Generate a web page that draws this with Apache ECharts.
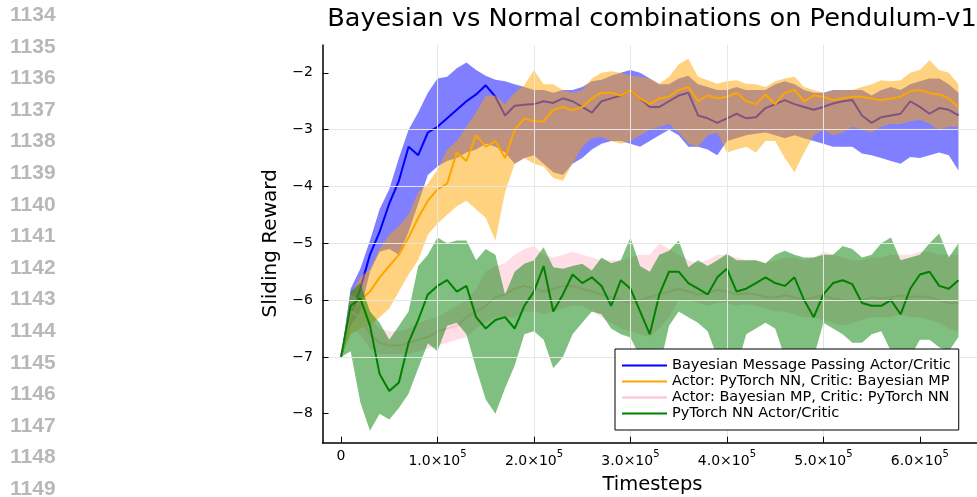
<!DOCTYPE html>
<html>
<head>
<meta charset="utf-8">
<script src="https://cdn.jsdelivr.net/npm/echarts@6/dist/echarts.min.js"></script>
<style>
html,body{margin:0;padding:0;background:#ffffff;}
#chart{width:977px;height:497px;}
</style>
</head>
<body>
<div id="chart"></div>
<script>
// ---------------- data ----------------
const timesteps = [0,10000,20000,30000,40000,50000,60000,70000,80000,90000,
  100000,110000,120000,130000,140000,150000,160000,170000,180000,190000,
  200000,210000,220000,230000,240000,250000,260000,270000,280000,290000,
  300000,310000,320000,330000,340000,350000,360000,370000,380000,390000,
  400000,410000,420000,430000,440000,450000,460000,470000,480000,490000,
  500000,510000,520000,530000,540000,550000,560000,570000,580000,590000,
  600000,610000,620000,630000,640000];

const seriesNames = [
  'Bayesian Message Passing Actor/Critic',
  'Actor: PyTorch NN, Critic: Bayesian MP',
  'Actor: Bayesian MP, Critic: PyTorch NN',
  'PyTorch NN Actor/Critic'
];

// Bayesian Message Passing Actor/Critic
const bmpMean = [-7.0,-6.3,-5.8,-5.2,-4.8,-4.3,-3.9,-3.3,-3.45,-3.05,
  -2.95,-2.8,-2.65,-2.5,-2.38,-2.22,-2.42,-2.75,-2.58,-2.56,
  -2.55,-2.5,-2.53,-2.45,-2.5,-2.6,-2.7,-2.5,-2.45,-2.4,
  -2.3,-2.45,-2.6,-2.6,-2.5,-2.4,-2.35,-2.75,-2.8,-2.88,
  -2.8,-2.72,-2.8,-2.78,-2.62,-2.55,-2.48,-2.55,-2.6,-2.65,
  -2.6,-2.54,-2.5,-2.48,-2.75,-2.88,-2.78,-2.75,-2.72,-2.5,
  -2.6,-2.72,-2.62,-2.65,-2.75];
const bmpUpper = [-7.0,-5.8,-5.45,-4.95,-4.4,-4.05,-3.5,-3.0,-2.7,-2.35,
  -2.1,-2.07,-1.92,-1.82,-1.95,-2.05,-2.12,-2.15,-2.2,-2.25,
  -2.3,-2.3,-2.35,-2.3,-2.3,-2.25,-2.15,-2.12,-2.05,-2.0,
  -1.95,-2.0,-2.1,-2.2,-2.2,-2.1,-2.05,-2.2,-2.25,-2.3,
  -2.3,-2.25,-2.3,-2.3,-2.3,-2.2,-2.15,-2.2,-2.3,-2.35,
  -2.35,-2.3,-2.3,-2.3,-2.3,-2.4,-2.3,-2.25,-2.3,-2.2,
  -2.15,-2.1,-2.1,-2.2,-2.35];
const bmpLower = [-7.0,-6.45,-6.2,-5.5,-5.15,-5.1,-5.2,-4.8,-4.3,-3.8,
  -3.65,-3.55,-3.5,-3.4,-3.35,-3.25,-3.3,-3.4,-3.6,-3.5,
  -3.45,-3.6,-3.75,-3.8,-3.6,-3.5,-3.35,-3.25,-3.2,-3.2,
  -3.25,-3.3,-3.2,-3.1,-3.0,-3.1,-3.3,-3.3,-3.35,-3.45,
  -3.2,-3.15,-3.1,-3.07,-3.05,-3.1,-3.15,-3.1,-3.15,-3.2,
  -3.25,-3.3,-3.3,-3.3,-3.42,-3.45,-3.5,-3.55,-3.6,-3.48,
  -3.5,-3.45,-3.4,-3.45,-3.72];

// Actor: PyTorch NN, Critic: Bayesian MP
const nnBmpMean = [-7.0,-6.3,-6.0,-5.85,-5.6,-5.4,-5.2,-4.9,-4.55,-4.25,
  -4.05,-3.95,-3.4,-3.55,-3.1,-3.3,-3.2,-3.5,-3.0,-2.8,
  -2.85,-2.85,-2.65,-2.6,-2.66,-2.6,-2.45,-2.35,-2.35,-2.4,
  -2.3,-2.45,-2.55,-2.45,-2.42,-2.3,-2.25,-2.5,-2.4,-2.45,
  -2.42,-2.35,-2.5,-2.55,-2.38,-2.55,-2.35,-2.3,-2.5,-2.4,
  -2.42,-2.48,-2.45,-2.42,-2.42,-2.45,-2.48,-2.45,-2.42,-2.32,
  -2.3,-2.36,-2.38,-2.45,-2.6];
const nnBmpUpper = [-7.0,-5.9,-5.6,-5.45,-5.1,-4.85,-4.7,-4.5,-4.1,-3.95,
  -3.7,-3.35,-3.2,-2.95,-2.7,-2.4,-2.4,-2.55,-2.35,-2.22,
  -1.95,-2.2,-2.2,-2.3,-2.35,-2.3,-2.1,-2.0,-1.97,-2.0,
  -2.05,-2.07,-2.1,-2.19,-2.07,-1.85,-1.75,-2.07,-2.13,-2.19,
  -2.15,-2.13,-2.19,-2.2,-2.25,-2.15,-2.1,-2.07,-2.25,-2.3,
  -2.35,-2.31,-2.3,-2.3,-2.25,-2.2,-2.13,-2.15,-2.13,-2.0,
  -1.95,-1.78,-1.95,-2.0,-2.2];
const nnBmpLower = [-7.0,-6.6,-6.5,-6.45,-6.3,-6.15,-5.85,-5.55,-5.3,-4.85,
  -4.65,-4.5,-4.35,-4.25,-4.4,-4.55,-4.95,-4.1,-3.6,-3.5,
  -3.6,-3.65,-3.85,-3.9,-3.6,-3.3,-3.15,-3.13,-3.2,-3.25,
  -3.2,-3.1,-3.0,-2.95,-2.9,-3.05,-3.25,-3.3,-3.1,-3.05,
  -3.4,-3.35,-3.3,-3.4,-3.2,-3.2,-3.5,-3.75,-3.4,-3.1,
  -3.0,-3.1,-3.05,-2.95,-3.0,-3.05,-2.95,-2.9,-2.9,-2.85,
  -2.83,-2.9,-3.0,-2.95,-2.95];

// Actor: Bayesian MP, Critic: PyTorch NN
const bmpNnMean = [-7.0,-6.2,-6.3,-6.6,-6.75,-6.8,-6.8,-6.75,-6.7,-6.65,
  -6.55,-6.5,-6.45,-6.3,-6.2,-6.1,-5.95,-5.9,-5.8,-5.75,
  -5.8,-5.85,-5.8,-5.75,-5.75,-5.8,-5.85,-5.9,-5.95,-6.0,
  -6.05,-6.0,-5.95,-5.9,-5.85,-5.8,-5.85,-5.9,-5.88,-5.82,
  -5.85,-5.9,-5.88,-5.9,-5.95,-5.95,-5.92,-5.95,-6.0,-5.95,
  -5.92,-5.97,-6.0,-6.02,-6.0,-5.95,-5.97,-5.95,-5.92,-5.95,
  -5.93,-5.95,-6.0,-6.05,-6.05];
const bmpNnUpper = [-7.0,-5.9,-6.0,-6.35,-6.5,-6.55,-6.55,-6.5,-6.4,-6.35,
  -6.3,-6.2,-6.1,-6.0,-5.8,-5.5,-5.4,-5.35,-5.2,-5.1,
  -5.05,-5.2,-5.25,-5.2,-5.15,-5.2,-5.25,-5.3,-5.3,-5.3,
  -5.25,-5.2,-5.2,-5.0,-5.1,-5.2,-5.3,-5.35,-5.3,-5.2,
  -5.2,-5.25,-5.3,-5.3,-5.35,-5.3,-5.25,-5.25,-5.3,-5.25,
  -5.15,-5.2,-5.25,-5.3,-5.3,-5.25,-5.25,-5.2,-5.2,-5.2,
  -5.15,-5.15,-5.2,-5.2,-5.2];
const bmpNnLower = [-7.0,-6.5,-6.6,-6.85,-6.95,-6.95,-6.95,-6.95,-6.9,-6.85,
  -6.8,-6.75,-6.7,-6.65,-6.5,-6.4,-6.3,-6.3,-6.3,-6.2,
  -6.2,-6.25,-6.2,-6.15,-6.1,-6.1,-6.2,-6.3,-6.4,-6.5,
  -6.55,-6.6,-6.65,-6.5,-6.3,-6.0,-6.0,-6.05,-6.1,-6.05,
  -6.05,-6.1,-6.07,-6.1,-6.15,-6.2,-6.2,-6.25,-6.3,-6.3,
  -6.35,-6.4,-6.45,-6.4,-6.35,-6.3,-6.3,-6.3,-6.25,-6.3,
  -6.3,-6.35,-6.4,-6.5,-6.55];

// PyTorch NN Actor/Critic
const nnMean = [-7.0,-6.1,-5.97,-6.45,-7.3,-7.6,-7.45,-6.75,-6.35,-5.9,
  -5.75,-5.65,-5.85,-5.75,-6.3,-6.5,-6.35,-6.3,-6.5,-6.1,
  -5.85,-5.4,-6.2,-5.9,-5.55,-5.7,-5.6,-5.75,-6.1,-5.65,
  -5.8,-6.2,-6.6,-5.9,-5.5,-5.5,-5.7,-5.8,-5.9,-5.6,
  -5.45,-5.85,-5.8,-5.7,-5.6,-5.7,-5.75,-5.6,-6.0,-6.3,
  -5.9,-5.7,-5.65,-5.72,-6.05,-6.1,-6.1,-6.0,-6.25,-5.8,
  -5.55,-5.5,-5.75,-5.8,-5.65];
const nnUpper = [-7.0,-5.85,-5.7,-6.2,-6.4,-6.7,-6.45,-6.2,-5.4,-5.2,
  -4.9,-5.0,-4.95,-4.95,-5.3,-5.1,-5.2,-5.9,-5.5,-5.36,
  -5.3,-5.07,-5.42,-5.45,-5.4,-5.36,-5.48,-5.25,-5.35,-5.3,
  -4.9,-5.4,-5.5,-5.2,-5.13,-4.95,-5.42,-5.3,-5.4,-5.3,
  -5.19,-5.3,-5.3,-5.3,-5.35,-5.2,-5.13,-5.2,-5.25,-5.25,
  -5.2,-5.2,-5.05,-5.1,-5.25,-5.2,-5.0,-4.9,-5.3,-5.25,
  -5.2,-5.0,-4.83,-5.25,-5.0];
const nnLower = [-7.0,-6.9,-7.8,-8.3,-8.0,-8.1,-7.9,-7.65,-7.2,-6.76,
  -6.9,-6.45,-6.4,-6.6,-7.2,-7.75,-8.0,-7.55,-7.15,-6.6,
  -6.55,-6.7,-7.2,-7.0,-6.6,-6.4,-6.2,-6.25,-6.5,-6.6,
  -6.66,-7.0,-7.5,-7.2,-6.45,-6.2,-6.3,-6.4,-6.55,-7.0,
  -7.3,-7.2,-6.6,-6.5,-6.4,-6.5,-7.0,-7.3,-7.4,-7.0,
  -6.4,-6.5,-6.6,-6.75,-6.75,-6.6,-6.55,-6.9,-7.3,-7.0,
  -6.7,-6.7,-6.83,-6.9,-6.65];

// ticks and page furniture text
const xTickValues = [0,100000,200000,300000,400000,500000,600000];
const yTickValues = [-8,-7,-6,-5,-4,-3,-2];
const lineNumbers = ['1134','1135','1136','1137','1138','1139','1140','1141',
  '1142','1143','1144','1145','1146','1147','1148','1149'];
const titleText = 'Bayesian vs Normal combinations on Pendulum-v1';
const xLabelText = 'Timesteps';
const yLabelText = 'Sliding Reward';

// ---------------- chart ----------------
const FONT = 'DejaVu Sans';
const colors = ['#0000ff', '#ffa500', '#ffc0cb', '#008000'];
const groups = [
  [bmpMean, bmpUpper, bmpLower],
  [nnBmpMean, nnBmpUpper, nnBmpLower],
  [bmpNnMean, bmpNnUpper, bmpNnLower],
  [nnMean, nnUpper, nnLower]
];

const series = [];
groups.forEach(function (g, k) {
  const mean = g[0], upper = g[1], lower = g[2];
  // ribbon (min/max band) drawn as one polygon through the axis scales
  series.push({
    type: 'custom', name: 'band' + k, silent: true, clip: true, z: 2 + 2 * k,
    data: [[timesteps[0], mean[0]]],
    encode: { x: 0, y: 1 },
    renderItem: function (params, api) {
      const top = timesteps.map(function (t, i) { return api.coord([t, upper[i]]); });
      const bottom = timesteps.map(function (t, i) { return api.coord([t, lower[i]]); }).reverse();
      return {
        type: 'polygon',
        shape: { points: top.concat(bottom) },
        style: { fill: colors[k], opacity: 0.5 }
      };
    }
  });
  series.push({
    type: 'line', name: seriesNames[k], z: 3 + 2 * k,
    data: timesteps.map(function (t, i) { return [t, mean[i]]; }),
    symbol: 'none', showSymbol: false,
    lineStyle: { color: colors[k], width: 2 }, itemStyle: { color: colors[k] }
  });
});

const graphics = [];
lineNumbers.forEach(function (s, k) {
  graphics.push({
    type: 'text', x: 10, y: 15.3 + 31.6 * k, silent: true,
    style: { text: s, font: 'bold 21px "Liberation Sans", Arial, sans-serif', fill: '#b8b8b8',
      textAlign: 'left', textVerticalAlign: 'middle', align: 'left', verticalAlign: 'middle' }
  });
});
graphics.push({
  type: 'text', x: 652, y: 19.7, silent: true,
  style: { text: titleText, font: '25.6px "DejaVu Sans"', fill: '#000',
    textAlign: 'center', textVerticalAlign: 'middle', align: 'center', verticalAlign: 'middle' }
});
graphics.push({
  type: 'text', x: 652.5, y: 484.5, silent: true,
  style: { text: xLabelText, font: '19.5px "DejaVu Sans"', fill: '#000',
    textAlign: 'center', textVerticalAlign: 'middle', align: 'center', verticalAlign: 'middle' }
});
graphics.push({
  type: 'text', x: 270.5, y: 243.3, rotation: Math.PI / 2, silent: true,
  style: { text: yLabelText, font: '20px "DejaVu Sans"', fill: '#000',
    textAlign: 'center', textVerticalAlign: 'middle', align: 'center', verticalAlign: 'middle' }
});

const chart = echarts.init(document.getElementById('chart'), null, { renderer: 'canvas' });
chart.setOption({
  animation: false,
  backgroundColor: '#ffffff',
  grid: { left: 322.5, top: 45, width: 660.4, height: 397.7, containLabel: false },
  legend: {
    data: seriesNames, z: 30,
    orient: 'vertical', left: 615, top: 349,
    padding: [9, 8, 9, 7], itemGap: 1, itemWidth: 45, itemHeight: 2,
    icon: 'rect', backgroundColor: '#ffffff', borderColor: '#000000', borderWidth: 1,
    textStyle: { fontFamily: FONT, fontSize: 14.5, color: '#000' },
    selectedMode: false
  },
  xAxis: {
    type: 'value', min: -19200, max: 659200, splitNumber: 7, z: 20,
    axisLine: { show: true, onZero: false, lineStyle: { color: '#000', width: 1.5 } },
    axisTick: { show: true, inside: true, length: 6, customValues: xTickValues, lineStyle: { color: '#000', width: 1 } },
    splitLine: { show: true, showMinLine: false, showMaxLine: false, lineStyle: { color: '#e6e6e6', width: 1 } },
    axisLabel: {
      customValues: xTickValues, margin: 7, color: '#000',
      formatter: function (v) {
        if (v === 0) return '{m|0}';
        return '{m|' + (v / 100000).toFixed(1) + '×10}{s|5}';
      },
      rich: {
        m: { fontFamily: FONT, fontSize: 14, color: '#000', verticalAlign: 'bottom' },
        s: { fontFamily: FONT, fontSize: 10, color: '#000', verticalAlign: 'top', padding: [0, 0, 9, 0] }
      }
    }
  },
  yAxis: {
    type: 'value', min: -8.51, max: -1.51, splitNumber: 7, z: 20,
    axisLine: { show: true, onZero: false, lineStyle: { color: '#000', width: 1.5 } },
    axisTick: { show: true, inside: true, length: 6, customValues: yTickValues, lineStyle: { color: '#000', width: 1 } },
    splitLine: { show: true, showMinLine: false, showMaxLine: false, lineStyle: { color: '#e6e6e6', width: 1 } },
    axisLabel: {
      customValues: yTickValues, margin: 9.5, color: '#000', fontFamily: FONT, fontSize: 14,
      formatter: function (v) { return (v < 0 ? '\u2212' : '') + Math.abs(v); }
    }
  },
  graphic: graphics,
  series: series
});
</script>
</body>
</html>
